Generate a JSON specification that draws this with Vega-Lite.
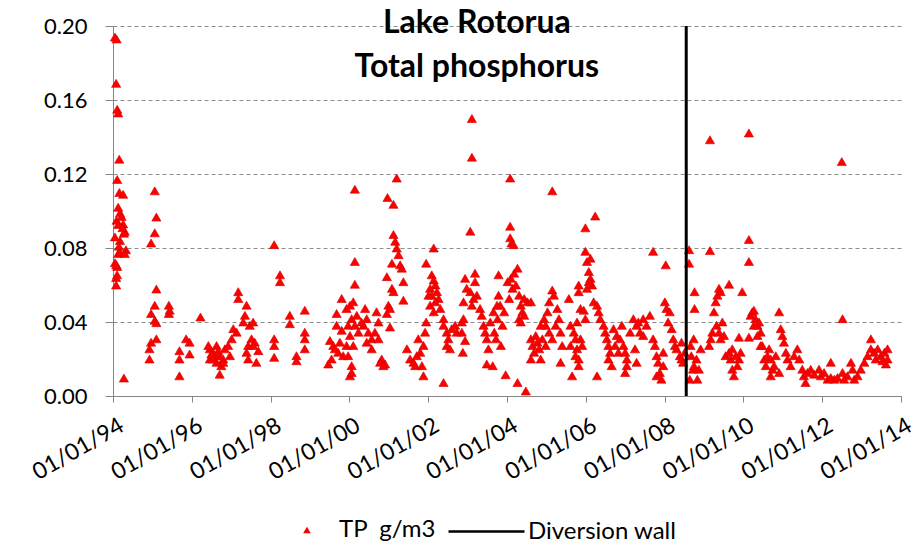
{
  "$schema": "https://vega.github.io/schema/vega-lite/v6.json",
  "autosize": {"type": "none"},
  "width": 788,
  "height": 370,
  "padding": {"left": 113, "top": 26, "right": 18, "bottom": 151},
  "background": "white",
  "config": {
    "view": {"stroke": null},
    "axis": {"labelFont": "Lato", "labelFontSize": 22, "labelColor": "#000000", "domainColor": "#868686", "tickColor": "#868686", "title": null},
    "legend": {"labelFont": "Lato", "labelFontSize": 24, "labelColor": "#000000", "labelLimit": 400, "padding": 0, "title": null}
  },
  "datasets": {
    "tp": [
      {"date":"1994-01-19","tp":0.194},{"date":"1994-02-03","tp":0.193},{"date":"1994-01-30","tp":0.169},{"date":"1994-02-09","tp":0.155},
      {"date":"1994-02-18","tp":0.153},{"date":"1994-02-28","tp":0.128},{"date":"1994-02-09","tp":0.117},{"date":"1994-03-01","tp":0.110},
      {"date":"1994-04-05","tp":0.109},{"date":"1994-02-18","tp":0.102},{"date":"1994-03-07","tp":0.099},{"date":"1994-03-22","tp":0.097},
      {"date":"1994-02-03","tp":0.095},{"date":"1994-04-05","tp":0.093},{"date":"1994-04-20","tp":0.089},{"date":"1994-04-12","tp":0.088},
      {"date":"1994-01-19","tp":0.086},{"date":"1994-03-07","tp":0.084},{"date":"1994-05-01","tp":0.079},{"date":"1994-02-18","tp":0.077},
      {"date":"1994-01-19","tp":0.072},{"date":"1994-02-09","tp":0.070},{"date":"1994-01-30","tp":0.064},{"date":"1994-01-30","tp":0.060},
      {"date":"1994-02-18","tp":0.0927},{"date":"1994-03-30","tp":0.091},{"date":"1994-03-05","tp":0.078},{"date":"1994-02-01","tp":0.071},
      {"date":"1994-02-08","tp":0.0655},{"date":"1994-02-25","tp":0.081},{"date":"1994-04-20","tp":0.077},{"date":"1994-04-12","tp":0.0097},
      {"date":"1995-01-23","tp":0.1109},{"date":"1995-02-07","tp":0.0967},{"date":"1995-01-23","tp":0.0882},{"date":"1994-12-20","tp":0.0827},
      {"date":"1995-02-07","tp":0.0578},{"date":"1995-01-23","tp":0.0491},{"date":"1994-12-20","tp":0.0446},{"date":"1995-01-23","tp":0.0409},
      {"date":"1995-02-07","tp":0.0396},{"date":"1995-02-07","tp":0.0309},{"date":"1994-12-20","tp":0.0291},{"date":"1994-12-05","tp":0.0255},
      {"date":"1994-12-05","tp":0.020},{"date":"1995-06-03","tp":0.0491},{"date":"1995-06-03","tp":0.0446},{"date":"1995-06-10","tp":0.0464},
      {"date":"1995-11-10","tp":0.0309},{"date":"1995-12-12","tp":0.0291},{"date":"1995-09-09","tp":0.0245},{"date":"1995-12-12","tp":0.0227},
      {"date":"1995-09-09","tp":0.020},{"date":"1995-09-09","tp":0.0109},{"date":"1996-03-22","tp":0.0427},
      {"date":"1996-06-17","tp":0.0255},{"date":"1996-07-16","tp":0.0236},{"date":"1996-08-18","tp":0.0273},{"date":"1996-09-16","tp":0.0218},
      {"date":"1996-06-17","tp":0.020},{"date":"1996-10-19","tp":0.020},{"date":"1996-10-01","tp":0.0164},{"date":"1996-09-16","tp":0.0118},
      {"date":"1996-07-31","tp":0.0218},{"date":"1996-11-03","tp":0.0255},{"date":"1996-07-01","tp":0.0227},{"date":"1996-09-02","tp":0.0245},
      {"date":"1996-10-19","tp":0.0182},{"date":"1996-06-03","tp":0.0273},{"date":"1996-07-16","tp":0.020},{"date":"1996-08-18","tp":0.0182},
      {"date":"1996-12-03","tp":0.0273},{"date":"1997-01-05","tp":0.0309},{"date":"1997-01-20","tp":0.0364},{"date":"1997-02-20","tp":0.0345},
      {"date":"1997-03-07","tp":0.0564},{"date":"1997-03-07","tp":0.0527},{"date":"1996-12-20","tp":0.0218},{"date":"1997-05-23","tp":0.0491},
      {"date":"1997-05-08","tp":0.0436},{"date":"1997-04-23","tp":0.040},{"date":"1997-06-22","tp":0.0382},{"date":"1997-07-23","tp":0.040},
      {"date":"1997-07-08","tp":0.0309},{"date":"1997-06-07","tp":0.0273},{"date":"1997-08-07","tp":0.0291},{"date":"1997-09-09","tp":0.0245},
      {"date":"1997-05-23","tp":0.0236},{"date":"1997-06-07","tp":0.020},{"date":"1997-08-22","tp":0.0182},{"date":"1997-07-23","tp":0.0273},
      {"date":"1998-02-03","tp":0.0818},{"date":"1998-02-03","tp":0.0309},{"date":"1998-02-03","tp":0.0273},{"date":"1998-02-03","tp":0.0209},
      {"date":"1998-03-29","tp":0.0655},{"date":"1998-03-29","tp":0.0618},{"date":"1998-06-28","tp":0.0436},{"date":"1998-06-28","tp":0.0391},
      {"date":"1998-08-29","tp":0.0218},{"date":"1998-08-29","tp":0.0191},{"date":"1998-11-14","tp":0.0464},{"date":"1998-11-14","tp":0.0345},
      {"date":"1998-11-14","tp":0.0309},{"date":"1998-11-14","tp":0.0255},
      {"date":"1999-07-05","tp":0.030},{"date":"1999-06-20","tp":0.0173},{"date":"1999-08-05","tp":0.0273},{"date":"1999-09-05","tp":0.0446},
      {"date":"1999-09-05","tp":0.0382},{"date":"1999-10-05","tp":0.0291},{"date":"1999-10-22","tp":0.0527},{"date":"1999-10-22","tp":0.0355},
      {"date":"1999-11-05","tp":0.0218},{"date":"1999-07-20","tp":0.020},{"date":"1999-08-20","tp":0.0255},{"date":"1999-09-20","tp":0.0236},
      {"date":"2000-02-21","tp":0.1118},{"date":"2000-02-21","tp":0.0727},{"date":"2000-02-21","tp":0.0604},{"date":"1999-12-06","tp":0.0473},
      {"date":"2000-01-07","tp":0.0491},{"date":"2000-02-06","tp":0.0509},{"date":"2000-01-22","tp":0.0418},{"date":"1999-12-21","tp":0.0382},
      {"date":"2000-02-21","tp":0.0382},{"date":"2000-01-07","tp":0.0327},{"date":"1999-12-06","tp":0.0273},{"date":"2000-02-06","tp":0.0273},
      {"date":"1999-12-21","tp":0.0218},{"date":"2000-01-22","tp":0.0164},{"date":"2000-01-07","tp":0.0109},{"date":"2000-01-22","tp":0.0127},
      {"date":"2000-03-10","tp":0.0436},{"date":"2000-03-25","tp":0.0345},{"date":"2000-05-26","tp":0.0473},{"date":"2000-05-11","tp":0.0382},
      {"date":"2000-06-10","tp":0.0418},{"date":"2000-06-25","tp":0.0345},{"date":"2000-07-26","tp":0.0309},{"date":"2000-07-26","tp":0.0255},
      {"date":"2000-09-09","tp":0.0455},{"date":"2000-09-27","tp":0.040},{"date":"2000-08-25","tp":0.0345},{"date":"2000-09-27","tp":0.0309},
      {"date":"2000-06-10","tp":0.0291},{"date":"2000-04-23","tp":0.040},{"date":"2000-10-27","tp":0.020},{"date":"2000-11-27","tp":0.0173},
      {"date":"2000-10-12","tp":0.0182},{"date":"2000-11-11","tp":0.0164},{"date":"2000-12-20","tp":0.1073},{"date":"2001-02-13","tp":0.1036},
      {"date":"2001-03-15","tp":0.1178},{"date":"2001-02-13","tp":0.0873},{"date":"2001-03-01","tp":0.0836},{"date":"2001-03-15","tp":0.080},
      {"date":"2001-04-01","tp":0.0764},{"date":"2001-04-16","tp":0.0709},{"date":"2001-05-01","tp":0.0691},{"date":"2001-01-30","tp":0.0718},
      {"date":"2000-12-14","tp":0.0645},{"date":"2001-05-16","tp":0.0618},{"date":"2001-01-30","tp":0.0582},{"date":"2001-02-13","tp":0.0564},
      {"date":"2000-12-28","tp":0.0491},{"date":"2001-01-12","tp":0.0473},{"date":"2001-05-16","tp":0.0518},{"date":"2000-12-14","tp":0.0446},
      {"date":"2001-01-12","tp":0.0373},{"date":"2001-06-18","tp":0.0255},{"date":"2001-07-17","tp":0.020},{"date":"2001-08-18","tp":0.0182},
      {"date":"2001-09-17","tp":0.0218},{"date":"2001-10-19","tp":0.0236},{"date":"2001-11-18","tp":0.0273},{"date":"2001-12-03","tp":0.0345},
      {"date":"2001-12-13","tp":0.040},{"date":"2001-11-04","tp":0.0164},{"date":"2001-11-18","tp":0.0109},{"date":"2001-10-01","tp":0.0309},
      {"date":"2001-09-02","tp":0.0164},{"date":"2001-12-13","tp":0.0718},{"date":"2002-02-21","tp":0.080},{"date":"2002-02-03","tp":0.0655},
      {"date":"2002-02-21","tp":0.0627},{"date":"2002-03-08","tp":0.060},{"date":"2002-01-19","tp":0.0582},{"date":"2002-03-23","tp":0.0564},
      {"date":"2002-02-03","tp":0.0545},{"date":"2002-04-07","tp":0.0527},{"date":"2002-01-19","tp":0.0491},{"date":"2002-04-23","tp":0.0473},
      {"date":"2002-01-04","tp":0.0545},{"date":"2002-03-08","tp":0.0509},{"date":"2002-02-21","tp":0.0455},{"date":"2002-05-23","tp":0.0418},
      {"date":"2002-05-23","tp":0.0382},{"date":"2002-06-22","tp":0.0345},{"date":"2002-07-07","tp":0.0309},{"date":"2002-08-07","tp":0.0364},
      {"date":"2002-09-08","tp":0.0382},{"date":"2002-09-23","tp":0.0345},{"date":"2002-06-22","tp":0.0273},{"date":"2002-07-22","tp":0.0255},
      {"date":"2002-05-23","tp":0.0073},{"date":"2002-11-09","tp":0.040},{"date":"2002-11-24","tp":0.0418},{"date":"2002-12-09","tp":0.0636},
      {"date":"2002-12-24","tp":0.0582},{"date":"2003-02-10","tp":0.150},{"date":"2003-02-10","tp":0.1291},{"date":"2003-01-26","tp":0.0891},
      {"date":"2003-03-11","tp":0.0664},{"date":"2003-03-11","tp":0.0618},{"date":"2003-01-26","tp":0.0564},{"date":"2003-02-25","tp":0.0527},
      {"date":"2003-02-10","tp":0.0491},{"date":"2003-03-28","tp":0.0545},{"date":"2003-04-27","tp":0.0473},{"date":"2003-05-12","tp":0.0436},
      {"date":"2002-11-24","tp":0.0509},{"date":"2002-11-09","tp":0.0345},{"date":"2002-11-18","tp":0.0236},{"date":"2002-12-09","tp":0.030},
      {"date":"2003-05-29","tp":0.0382},{"date":"2003-06-13","tp":0.0345},{"date":"2003-06-28","tp":0.0309},{"date":"2003-07-13","tp":0.0255},
      {"date":"2003-06-28","tp":0.0173},{"date":"2003-07-30","tp":0.040},{"date":"2003-08-29","tp":0.0455},{"date":"2003-10-15","tp":0.0655},
      {"date":"2003-10-15","tp":0.0545},{"date":"2003-10-01","tp":0.0491},
      {"date":"2003-09-06","tp":0.0345},{"date":"2003-10-06","tp":0.0418},{"date":"2003-09-21","tp":0.0309},{"date":"2003-11-06","tp":0.0273},
      {"date":"2003-08-22","tp":0.0164},{"date":"2003-11-21","tp":0.0382},{"date":"2003-12-06","tp":0.0455},{"date":"2003-10-30","tp":0.0491},
      {"date":"2004-01-31","tp":0.1178},{"date":"2004-01-31","tp":0.0918},{"date":"2004-01-31","tp":0.0855},{"date":"2004-02-13","tp":0.0827},
      {"date":"2004-03-03","tp":0.0818},{"date":"2004-01-07","tp":0.0618},{"date":"2004-02-06","tp":0.0636},{"date":"2004-03-08","tp":0.0664},
      {"date":"2004-04-08","tp":0.0691},{"date":"2004-02-21","tp":0.0582},{"date":"2004-03-24","tp":0.060},{"date":"2004-01-22","tp":0.0527},
      {"date":"2003-12-20","tp":0.0115},{"date":"2004-04-08","tp":0.0073},{"date":"2004-06-24","tp":0.0027},{"date":"2004-04-23","tp":0.0545},
      {"date":"2004-05-08","tp":0.0491},{"date":"2004-05-23","tp":0.0455},{"date":"2004-06-09","tp":0.0527},{"date":"2004-07-09","tp":0.0509},
      {"date":"2004-08-10","tp":0.0509},{"date":"2004-04-23","tp":0.0418},{"date":"2004-06-09","tp":0.0436},{"date":"2004-05-08","tp":0.040},
      {"date":"2004-08-10","tp":0.0309},{"date":"2004-08-25","tp":0.0273},{"date":"2004-09-09","tp":0.0236},{"date":"2004-10-09","tp":0.0291},
      {"date":"2004-11-09","tp":0.020},{"date":"2004-10-26","tp":0.0255},{"date":"2004-08-10","tp":0.020},{"date":"2004-09-24","tp":0.0327},
      {"date":"2005-05-12","tp":0.0182},{"date":"2005-02-24","tp":0.1109},{"date":"2005-02-24","tp":0.0573},{"date":"2005-03-11","tp":0.0545},
      {"date":"2005-01-26","tp":0.0509},{"date":"2005-01-11","tp":0.0455},{"date":"2004-12-10","tp":0.0418},{"date":"2004-12-25","tp":0.0382},
      {"date":"2005-01-26","tp":0.0345},{"date":"2005-04-12","tp":0.0473},{"date":"2005-04-27","tp":0.0418},{"date":"2005-03-28","tp":0.0382},
      {"date":"2005-05-12","tp":0.0345},{"date":"2005-02-24","tp":0.0309},{"date":"2005-05-27","tp":0.0273},{"date":"2004-11-09","tp":0.0382},
      {"date":"2004-11-24","tp":0.0309},{"date":"2004-12-25","tp":0.0273},{"date":"2005-07-28","tp":0.0527},{"date":"2005-08-12","tp":0.0382},
      {"date":"2005-09-12","tp":0.0345},{"date":"2005-09-27","tp":0.0309},{"date":"2005-10-12","tp":0.0255},{"date":"2005-10-27","tp":0.020},
      {"date":"2005-08-27","tp":0.0109},{"date":"2005-10-12","tp":0.040},{"date":"2005-11-13","tp":0.0309},{"date":"2005-11-28","tp":0.0273},
      {"date":"2005-08-12","tp":0.0273},{"date":"2005-09-27","tp":0.0218},{"date":"2005-10-27","tp":0.0164},{"date":"2005-10-27","tp":0.060},
      {"date":"2005-10-27","tp":0.0564},{"date":"2005-11-13","tp":0.0473},{"date":"2005-12-28","tp":0.0909},{"date":"2006-03-29","tp":0.0973},
      {"date":"2005-12-28","tp":0.0782},{"date":"2006-01-12","tp":0.0727},{"date":"2006-02-13","tp":0.0745},{"date":"2006-01-29","tp":0.0673},
      {"date":"2006-02-13","tp":0.0636},{"date":"2006-02-28","tp":0.060},{"date":"2006-01-29","tp":0.0618},{"date":"2006-01-12","tp":0.0582},
      {"date":"2006-03-15","tp":0.0509},{"date":"2006-04-15","tp":0.0491},{"date":"2005-12-13","tp":0.0464},{"date":"2005-12-28","tp":0.0418},
      {"date":"2006-04-15","tp":0.0109},{"date":"2006-04-30","tp":0.0455},{"date":"2006-05-15","tp":0.0418},{"date":"2006-06-15","tp":0.0382},
      {"date":"2006-06-30","tp":0.0345},{"date":"2006-07-15","tp":0.0309},{"date":"2006-07-30","tp":0.0273},{"date":"2006-08-14","tp":0.0236},
      {"date":"2006-07-30","tp":0.020},{"date":"2006-08-29","tp":0.0164},{"date":"2006-09-15","tp":0.0364},{"date":"2006-10-15","tp":0.0327},
      {"date":"2006-11-14","tp":0.0309},{"date":"2006-12-01","tp":0.0382},{"date":"2006-12-16","tp":0.0273},{"date":"2006-09-30","tp":0.0273},
      {"date":"2006-10-30","tp":0.0236},{"date":"2007-01-01","tp":0.0236},{"date":"2007-01-16","tp":0.0164},{"date":"2007-01-01","tp":0.0127},
      {"date":"2007-01-16","tp":0.020},{"date":"2007-02-16","tp":0.0345},{"date":"2007-03-18","tp":0.0418},{"date":"2007-04-17","tp":0.0382},
      {"date":"2007-05-18","tp":0.0345},{"date":"2007-06-17","tp":0.0418},{"date":"2007-07-18","tp":0.0382},{"date":"2007-04-02","tp":0.0255},
      {"date":"2007-04-17","tp":0.0182},{"date":"2007-06-17","tp":0.0327},{"date":"2007-05-03","tp":0.040},{"date":"2007-08-18","tp":0.0436},
      {"date":"2007-09-17","tp":0.0782},{"date":"2007-09-17","tp":0.0309},{"date":"2007-10-04","tp":0.0273},{"date":"2007-10-19","tp":0.0218},
      {"date":"2007-11-03","tp":0.0182},{"date":"2007-11-18","tp":0.0127},{"date":"2007-12-03","tp":0.0091},{"date":"2007-10-19","tp":0.0109},
      {"date":"2007-12-20","tp":0.0236},{"date":"2008-01-12","tp":0.0709},{"date":"2008-01-04","tp":0.0509},{"date":"2008-01-19","tp":0.0473},
      {"date":"2008-02-18","tp":0.0455},{"date":"2008-02-03","tp":0.040},{"date":"2008-03-07","tp":0.0364},{"date":"2008-03-22","tp":0.0309},
      {"date":"2008-04-06","tp":0.0273},{"date":"2007-12-20","tp":0.0164},{"date":"2008-04-21","tp":0.0255},{"date":"2008-05-22","tp":0.0218},
      {"date":"2008-06-06","tp":0.020},{"date":"2008-06-21","tp":0.0182},{"date":"2008-07-06","tp":0.0236},{"date":"2008-06-06","tp":0.0291},
      {"date":"2008-08-15","tp":0.0791},{"date":"2008-08-15","tp":0.0718},{"date":"2008-10-05","tp":0.0564},{"date":"2008-10-05","tp":0.0473},
      {"date":"2008-09-27","tp":0.0309},{"date":"2008-09-05","tp":0.0218},{"date":"2008-10-23","tp":0.020},{"date":"2008-09-21","tp":0.0145},
      {"date":"2008-08-22","tp":0.0091},{"date":"2008-11-14","tp":0.0145},{"date":"2008-12-01","tp":0.0255},{"date":"2008-10-31","tp":0.0091},
      {"date":"2008-08-29","tp":0.0273},{"date":"2008-09-30","tp":0.0164},
      {"date":"2009-02-25","tp":0.1385},{"date":"2009-02-25","tp":0.0786},{"date":"2009-03-04","tp":0.0309},{"date":"2009-03-19","tp":0.0345},
      {"date":"2009-02-17","tp":0.0273},{"date":"2009-04-03","tp":0.0455},{"date":"2009-04-19","tp":0.0509},{"date":"2009-05-05","tp":0.0545},
      {"date":"2009-05-20","tp":0.0582},{"date":"2009-06-04","tp":0.0564},{"date":"2009-04-27","tp":0.0382},{"date":"2009-05-20","tp":0.0345},
      {"date":"2009-06-20","tp":0.040},{"date":"2009-07-05","tp":0.0327},{"date":"2009-06-04","tp":0.0309},{"date":"2009-08-21","tp":0.0604},
      {"date":"2009-07-20","tp":0.0218},{"date":"2009-08-21","tp":0.0236},{"date":"2009-09-05","tp":0.020},{"date":"2009-09-20","tp":0.0145},
      {"date":"2009-10-05","tp":0.0109},{"date":"2009-11-06","tp":0.0164},{"date":"2009-11-21","tp":0.020},{"date":"2009-12-06","tp":0.0236},
      {"date":"2009-11-21","tp":0.0318},{"date":"2009-12-21","tp":0.0564},{"date":"2009-09-20","tp":0.0255},{"date":"2009-10-22","tp":0.0218},
      {"date":"2010-02-21","tp":0.1422},{"date":"2010-02-21","tp":0.0846},{"date":"2010-02-21","tp":0.0727},{"date":"2010-02-21","tp":0.0318},
      {"date":"2010-03-09","tp":0.0436},{"date":"2010-03-24","tp":0.0455},{"date":"2010-04-08","tp":0.0464},{"date":"2010-04-23","tp":0.0418},
      {"date":"2010-05-11","tp":0.0382},{"date":"2010-05-26","tp":0.040},{"date":"2010-06-10","tp":0.0345},{"date":"2010-06-25","tp":0.0273},
      {"date":"2010-07-13","tp":0.020},{"date":"2010-07-28","tp":0.0164},{"date":"2010-08-12","tp":0.0218},{"date":"2010-06-10","tp":0.0273},
      {"date":"2010-05-11","tp":0.0327},{"date":"2010-04-08","tp":0.0382},{"date":"2010-08-27","tp":0.0255},{"date":"2010-09-11","tp":0.020},
      {"date":"2010-09-28","tp":0.0145},{"date":"2010-10-13","tp":0.0164},{"date":"2010-10-28","tp":0.0218},{"date":"2010-11-28","tp":0.0455},
      {"date":"2010-12-13","tp":0.0364},{"date":"2010-12-28","tp":0.0327},{"date":"2011-01-12","tp":0.0291},{"date":"2011-01-30","tp":0.0236},
      {"date":"2011-02-14","tp":0.020},{"date":"2011-03-15","tp":0.0164},{"date":"2011-04-16","tp":0.0218},{"date":"2011-05-16","tp":0.0255},
      {"date":"2011-06-03","tp":0.020},{"date":"2010-11-28","tp":0.0127},{"date":"2010-09-11","tp":0.0109},{"date":"2011-07-01","tp":0.0145},
      {"date":"2011-07-16","tp":0.0109},{"date":"2011-07-31","tp":0.0073},{"date":"2011-08-18","tp":0.0127},{"date":"2011-09-17","tp":0.0145},
      {"date":"2011-10-19","tp":0.0118},{"date":"2011-12-03","tp":0.0145},{"date":"2011-12-20","tp":0.0109},{"date":"2012-01-19","tp":0.0127},
      {"date":"2012-03-21","tp":0.0182},{"date":"2012-02-21","tp":0.0091},{"date":"2012-03-21","tp":0.010},{"date":"2012-04-23","tp":0.0091},
      {"date":"2012-05-22","tp":0.010},{"date":"2012-07-01","tp":0.1267},{"date":"2012-07-08","tp":0.0418},{"date":"2012-07-08","tp":0.0127},
      {"date":"2012-07-23","tp":0.0091},{"date":"2012-08-22","tp":0.0109},{"date":"2012-09-24","tp":0.0182},{"date":"2012-10-09","tp":0.0145},
      {"date":"2012-10-24","tp":0.0091},{"date":"2012-11-24","tp":0.0109},{"date":"2012-12-24","tp":0.0145},{"date":"2013-01-26","tp":0.0182},
      {"date":"2013-02-25","tp":0.0218},{"date":"2013-03-28","tp":0.0309},{"date":"2013-03-28","tp":0.0255},{"date":"2013-04-27","tp":0.0236},
      {"date":"2013-05-12","tp":0.020},{"date":"2013-05-30","tp":0.0255},{"date":"2013-06-28","tp":0.0218},{"date":"2013-07-31","tp":0.0236},
      {"date":"2013-08-29","tp":0.0255},{"date":"2013-08-29","tp":0.020},{"date":"2013-08-14","tp":0.0173},{"date":"2013-07-13","tp":0.0191}
    ],
    "wall": [{"date": "2008-07-20"}],
    "label": [{}]
  },
  "layer": [
    {
      "data": {"name": "tp"},
      "mark": {"type": "point", "filled": true, "size": 85, "opacity": 1, "color": "#FF0000", "stroke": "#d40000", "strokeWidth": 0.6},
      "encoding": {
        "x": {
          "field": "date", "type": "temporal",
          "scale": {"domain": [{"year": 1994, "month": 1, "date": 1}, {"year": 2014, "month": 1, "date": 1}]},
          "axis": {
            "values": [
              {"year": 1994, "month": 1, "date": 1}, {"year": 1995, "month": 1, "date": 1}, {"year": 1996, "month": 1, "date": 1},
              {"year": 1997, "month": 1, "date": 1}, {"year": 1998, "month": 1, "date": 1}, {"year": 1999, "month": 1, "date": 1},
              {"year": 2000, "month": 1, "date": 1}, {"year": 2001, "month": 1, "date": 1}, {"year": 2002, "month": 1, "date": 1},
              {"year": 2003, "month": 1, "date": 1}, {"year": 2004, "month": 1, "date": 1}, {"year": 2005, "month": 1, "date": 1},
              {"year": 2006, "month": 1, "date": 1}, {"year": 2007, "month": 1, "date": 1}, {"year": 2008, "month": 1, "date": 1},
              {"year": 2009, "month": 1, "date": 1}, {"year": 2010, "month": 1, "date": 1}, {"year": 2011, "month": 1, "date": 1},
              {"year": 2012, "month": 1, "date": 1}, {"year": 2013, "month": 1, "date": 1}, {"year": 2014, "month": 1, "date": 1}
            ],
            "labelExpr": "year(datum.value) % 2 === 0 ? timeFormat(datum.value, '%d/%m/%y') : ''",
            "labelAngle": -30, "labelAlign": "right", "labelBaseline": "top", "labelFontSize": 23,
            "labelPadding": 12, "labelOffset": 3, "labelOverlap": false, "labelFlush": false, "labelBound": false,
            "tickSize": 6, "grid": false
          }
        },
        "y": {
          "field": "tp", "type": "quantitative",
          "scale": {"domain": [0, 0.2], "nice": false},
          "axis": {
            "values": [0, 0.04, 0.08, 0.12, 0.16, 0.2], "format": ".2f",
            "grid": true, "gridDash": [4, 3], "gridColor": "#8c8c8c", "gridWidth": 1,
            "tickSize": 8, "labelPadding": 18
          }
        },
        "shape": {
          "datum": "TP\u00a0 g/m3",
          "scale": {"domain": ["TP\u00a0 g/m3"], "range": ["triangle-up"]},
          "legend": {
            "orient": "none", "legendX": 182, "legendY": 492, "direction": "horizontal",
            "symbolSize": 60, "symbolFillColor": "#FF0000", "symbolStrokeColor": "#FF0000", "symbolStrokeWidth": 0,
            "symbolOpacity": 1, "labelOffset": 20
          }
        }
      }
    },
    {
      "data": {"name": "wall"},
      "mark": {"type": "rule", "strokeWidth": 3, "color": "#000000"},
      "encoding": {
        "x": {"field": "date", "type": "temporal"},
        "strokeDash": {
          "datum": "Diversion wall",
          "scale": {"domain": ["Diversion wall"], "range": [[1, 0]]},
          "legend": {
            "orient": "none", "legendX": 334, "legendY": 466, "direction": "horizontal",
            "symbolType": "stroke", "symbolSize": 5776, "symbolStrokeColor": "#000000", "symbolStrokeWidth": 2.5,
            "symbolDash": [1, 0], "symbolOpacity": 1, "labelOffset": 2
          }
        }
      }
    },
    {
      "data": {"name": "label"},
      "mark": {"type": "text", "text": ["Lake Rotorua", "Total phosphorus"], "font": "Lato", "fontSize": 32, "fontWeight": "bold", "lineHeight": 44, "align": "center", "baseline": "alphabetic", "color": "#000000"},
      "encoding": {
        "x": {"datum": {"year": 2003, "month": 3, "date": 28}, "type": "temporal"},
        "y": {"datum": 0.1962, "type": "quantitative"}
      }
    }
  ]
}
